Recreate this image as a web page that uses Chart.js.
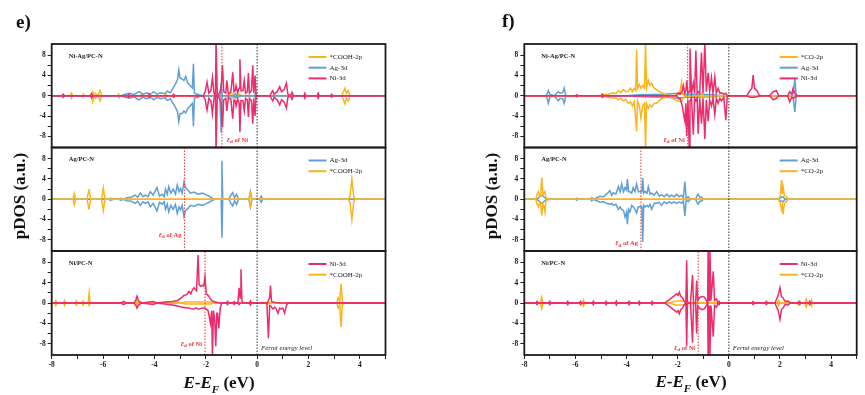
<!DOCTYPE html>
<html>
<head>
<meta charset="utf-8">
<script src="https://cdn.jsdelivr.net/npm/chart.js@4.4.0/dist/chart.umd.min.js"></script>
<style>
  body { margin: 0; background: #fff; width: 865px; height: 395px; position: relative; overflow: hidden; font-family: "Liberation Serif", serif; color: #111; }
  canvas { position: absolute; left: 0; top: 0; }
  .tag { position: absolute; font-weight: bold; font-size: 19px; line-height: 19px; }
  .ytitle { position: absolute; font-weight: bold; font-size: 17px; white-space: nowrap; transform: translate(-50%, -50%) rotate(-90deg); }
  .xtitle { position: absolute; font-weight: bold; font-size: 17px; white-space: nowrap; transform: translate(-50%, -50%); }
  .xtitle sub { font-size: 11px; }
</style>
</head>
<body>
<canvas id="e1" width="865" height="395"></canvas>
<canvas id="e2" width="865" height="395"></canvas>
<canvas id="e3" width="865" height="395"></canvas>
<canvas id="f1" width="865" height="395"></canvas>
<canvas id="f2" width="865" height="395"></canvas>
<canvas id="f3" width="865" height="395"></canvas>
<div class="tag" style="left:16px;top:12px">e)</div>
<div class="tag" style="left:502px;top:11px">f)</div>
<div class="ytitle" style="left:20px;top:196px">pDOS (a.u.)</div>
<div class="ytitle" style="left:492px;top:196px">pDOS (a.u.)</div>
<div class="xtitle" style="left:219px;top:384px"><i>E</i>-<i>E</i><sub><i>F</i></sub> (eV)</div>
<div class="xtitle" style="left:691px;top:383px"><i>E</i>-<i>E</i><sub><i>F</i></sub> (eV)</div>
<script>
// axis ranges and ticks
const xLimits = [-8, 5];
const yLimits = [-10.2, 10.2];
const xTickVals = [-8, -7, -6, -5, -4, -3, -2, -1, 0, 1, 2, 3, 4, 5];
const xTickLabels = [-8, -6, -4, -2, 0, 2, 4];
const yTickVals = [-8, -6, -4, -2, 0, 2, 4, 6, 8];
const yTickLabels = [-8, -4, 0, 4, 8];

// d-band centres (eV)
const epsE = [-1.37, -2.83, -2.03];
const epsF = [-1.61, -3.44, -1.2];

// each point: [energy, spin up, spin down]
const e1Cooh = [[-8,0,0],[-7.28,0,0],[-7.23,0.5,-0.5],[-7.18,0,0],[-6.8,0,0],[-6.77,0.3,-0.3],[-6.74,0,0],[-6.45,0,0],[-6.4,0.8,-1.2],[-6.36,0.3,-0.3],[-6.3,0.5,-0.5],[-6.2,0,0],[-6.12,1.0,-1.0],[-6.05,0,0],[-5.42,0,0],[-5.4,0.3,-0.3],[-5.38,0,0],[-4.55,0,0],[-4.5,0.3,-0.3],[-4.45,0,0],[-3.6,0,0],[-3.55,0.3,-0.3],[-3.5,0,0],[-2.35,0,0],[-2.3,0.3,-0.3],[-2.25,0,0],[-1.1,0,0],[-1.0,0.5,-0.5],[-0.9,0.2,-0.2],[-0.75,0.4,-0.4],[-0.6,0,0],[3.3,0,0],[3.36,0.8,-0.8],[3.42,1.5,-1.6],[3.48,0.5,-0.5],[3.55,1.0,-1.0],[3.62,0,0],[5,0,0]];
const e1Ag = [[-8,0,0],[-5.3,0,0],[-5.15,0.3,-0.3],[-4.95,0.5,-0.5],[-4.8,0.2,-0.2],[-4.6,0.8,-0.8],[-4.45,0.3,-0.3],[-4.3,0.6,-0.6],[-4.15,0.3,-0.3],[-4.03,0.8,-0.8],[-3.9,0.3,-0.3],[-3.76,0.6,-0.6],[-3.6,0.4,-0.4],[-3.5,0.9,-0.9],[-3.38,0.6,-0.6],[-3.3,1.3,-1.3],[-3.18,2.3,-2.3],[-3.1,3.2,-3.2],[-3.05,5.1,-5.1],[-3.0,3.5,-3.5],[-2.92,3.3,-3.5],[-2.85,3.0,-3.0],[-2.78,3.8,-3.4],[-2.7,2.5,-2.5],[-2.61,2.0,-2.0],[-2.52,1.5,-1.5],[-2.48,6.3,-6.0],[-2.44,0.5,-0.5],[-2.3,0.2,-0.2],[-2.1,0,0],[-1.45,0,0],[-1.4,2.5,-7.3],[-1.36,0,0],[-0.9,0,0],[-0.85,0.4,-0.4],[-0.8,0,0],[-0.1,0,0],[-0.06,0.5,-0.5],[-0.02,0,0],[5,0,0]];
const e1Ni = [[-8,0,0],[-7.6,0,0],[-7.55,0.3,-0.3],[-7.5,0,0],[-6.5,0,0],[-6.45,0.4,-0.4],[-6.4,0,0],[-5.05,0,0],[-5,0.3,-0.3],[-4.95,0,0],[-4.25,0,0],[-4.2,0.3,-0.3],[-4.15,0,0],[-3.3,0,0],[-3.25,0.3,-0.3],[-3.2,0,0],[-2.1,0,0],[-2.02,0.8,-0.8],[-1.95,2.7,-2.8],[-1.88,0.5,-0.5],[-1.8,1.0,-1.0],[-1.74,3.6,-3.5],[-1.68,0.5,-0.5],[-1.62,0,0],[-1.6,11,-11],[-1.57,11,-11],[-1.55,0,0],[-1.47,0.5,-0.5],[-1.4,1.5,-1.5],[-1.35,6.0,-6.2],[-1.3,0.8,-0.8],[-1.22,0.5,-0.5],[-1.18,3.0,-3.0],[-1.12,0.3,-0.3],[-1.02,0.8,-0.8],[-0.95,4.6,-4.5],[-0.9,0.8,-0.8],[-0.85,1.0,-1.0],[-0.82,2.0,-2.0],[-0.76,0.6,-0.6],[-0.7,1.5,-1.5],[-0.67,7.2,-7.2],[-0.63,1.0,-1.0],[-0.55,1.0,-1.0],[-0.5,3.0,-3.0],[-0.45,0.5,-0.5],[-0.38,0.8,-0.8],[-0.34,4.5,-4.2],[-0.3,0.5,-0.5],[-0.22,1.0,-1.0],[-0.17,6.0,-5.5],[-0.13,0.5,-0.5],[-0.08,4.0,-4.0],[-0.04,0,0],[0.5,0,0],[0.56,0.6,-0.6],[0.61,1.0,-1.0],[0.66,0.3,-0.3],[0.78,0.8,-0.8],[0.88,1.8,-1.8],[0.95,0.8,-0.8],[1.05,1.2,-1.2],[1.14,2.5,-2.4],[1.2,0.3,-0.3],[1.3,0,0],[1.36,0.7,-0.7],[1.42,0,0],[1.82,0,0],[1.86,0.5,-0.5],[1.9,0,0],[2.34,0,0],[2.38,0.5,-0.5],[2.42,0,0],[2.86,0,0],[2.9,0.3,-0.3],[2.94,0,0],[5,0,0]];

const e2Ag = [[-8,0,0],[-5.8,0,0],[-5.7,0.2,-0.2],[-5.6,0,0],[-5.4,0,0],[-5.3,0.2,-0.2],[-5.2,0,0],[-5.07,0.3,-0.3],[-4.9,0.4,-0.4],[-4.75,0.8,-0.8],[-4.65,0.4,-0.4],[-4.55,1.2,-1.2],[-4.45,0.5,-0.5],[-4.35,0.8,-0.8],[-4.25,0.5,-0.5],[-4.16,1.5,-1.5],[-4.05,0.8,-0.8],[-3.9,2.3,-2.3],[-3.8,0.6,-0.6],[-3.7,1.0,-1.0],[-3.62,0.5,-0.5],[-3.57,2.0,-2.0],[-3.5,1.0,-1.0],[-3.44,2.5,-2.5],[-3.36,1.2,-1.2],[-3.27,2.0,-2.0],[-3.18,1.0,-1.0],[-3.11,2.8,-2.8],[-3.04,1.5,-1.5],[-2.98,2.1,-2.1],[-2.92,1.2,-1.2],[-2.85,3.4,-3.4],[-2.78,2.2,-2.2],[-2.69,1.8,-1.8],[-2.6,1.2,-1.2],[-2.46,1.4,-1.4],[-2.3,1.0,-1.0],[-2.13,1.2,-1.2],[-2.0,0.9,-0.9],[-1.87,0.6,-0.6],[-1.75,0.2,-0.2],[-1.65,0,0],[-1.4,0,0],[-1.37,7.6,-7.6],[-1.34,0,0],[-1.1,0,0],[-1.02,0.8,-0.8],[-0.95,1.3,-1.3],[-0.88,0.3,-0.3],[-0.8,1.0,-1.0],[-0.72,0,0],[-0.32,0,0],[-0.26,1.5,-1.5],[-0.2,0,0],[0.1,0,0],[0.16,0.6,-0.6],[0.22,0,0],[5,0,0]];
const e2Cooh = [[-8,0,0],[-7.17,0,0],[-7.12,1.1,-1.1],[-7.07,0,0],[-6.62,0,0],[-6.58,1.2,-1.2],[-6.55,2.0,-2.0],[-6.52,1.2,-1.2],[-6.48,0,0],[-6.06,0,0],[-6.02,1.2,-1.2],[-5.99,2.2,-2.2],[-5.96,1.2,-1.2],[-5.92,0,0],[-0.32,0,0],[-0.28,1.0,-1.0],[-0.26,1.3,-1.3],[-0.22,0,0],[3.55,0,0],[3.62,0.6,-0.6],[3.69,4.0,-4.0],[3.76,0.6,-0.6],[3.82,0,0],[5,0,0]];

const e3Ni = [[-8,0,0],[-5.3,0,0],[-5.2,0.3,-0.3],[-5.1,0,0],[-4.8,0,0],[-4.72,0.6,-0.5],[-4.68,1.3,-1.0],[-4.62,0.4,-0.4],[-4.5,0,0],[-4.05,0.3,-0.3],[-3.9,0,0],[-3.6,0.2,-0.2],[-3.3,0.3,-0.4],[-3.1,0.5,-0.6],[-2.95,1.0,-0.8],[-2.85,1.5,-0.9],[-2.75,1.6,-1.0],[-2.65,2.3,-1.0],[-2.58,1.8,-1.1],[-2.52,2.6,-1.2],[-2.46,3.0,-1.2],[-2.4,2.6,-1.0],[-2.36,2.4,-1.0],[-2.3,9.4,-1.2],[-2.26,3.6,-1.2],[-2.2,3.3,-1.1],[-2.14,3.5,-1.0],[-2.08,3.3,-1.0],[-2.03,5.1,-1.0],[-1.98,1.8,-1.2],[-1.91,1.5,-1.5],[-1.87,1.2,-2.5],[-1.82,0.8,-4.0],[-1.77,0.5,-1.5],[-1.74,0.4,-10.5],[-1.7,0.3,-1.5],[-1.65,0.2,-3.5],[-1.61,0.2,-8.5],[-1.57,0.1,-2.0],[-1.54,0.1,-2.0],[-1.49,0,-5.0],[-1.44,0,-1.0],[-1.38,0,0],[-1.2,0,0],[-1.15,0.3,-0.3],[-1.1,0,0],[-0.93,0,0],[-0.89,0.3,-0.3],[-0.85,0,0],[-0.75,0,0],[-0.7,3.0,-0.3],[-0.66,1.0,0],[-0.63,6.6,0],[-0.59,0.5,0],[-0.55,0,0],[-0.3,0,0],[-0.26,0.4,-0.4],[-0.22,0,0],[0.38,0,0],[0.44,0.5,-6.9],[0.49,1.0,-0.5],[0.52,3.4,-0.5],[0.56,0.3,-0.8],[0.62,0.2,-1.2],[0.68,0.1,-0.8],[0.75,0.1,-1.2],[0.81,0,-2.0],[0.88,0,-1.0],[0.94,0,-1.2],[1.0,0,-1.0],[1.07,0,-2.0],[1.14,0,-0.5],[1.2,0,0],[5,0,0]];
const e3Cooh = [[-8,0,0],[-7.88,0,0],[-7.84,0.5,-0.5],[-7.8,0,0],[-7.54,0,0],[-7.5,0.5,-0.5],[-7.46,0,0],[-7.08,0,0],[-7.04,0.4,-0.4],[-7.0,0,0],[-6.82,0,0],[-6.78,0.4,-0.4],[-6.74,0,0],[-6.58,0,0],[-6.54,2.0,-0.5],[-6.5,0,0],[-4.74,0,0],[-4.7,0.5,-0.5],[-4.66,0,0],[-3.0,0,0],[-2.8,0.2,-0.2],[-1.8,0.2,-0.2],[-1.7,0,0],[0.38,0,0],[0.42,0.3,-0.3],[0.46,0,0],[3.1,0,0],[3.16,1.0,-1.0],[3.22,0.3,-0.3],[3.27,3.8,-4.7],[3.32,0.3,-0.3],[3.4,0,0],[5,0,0]];

const f1Co = [[-8,0,0],[-5.0,0,0],[-4.9,0.2,-0.2],[-4.7,0.3,-0.3],[-4.52,0.6,-0.5],[-4.42,0.4,-0.4],[-4.32,1.0,-0.8],[-4.22,0.6,-0.5],[-4.13,1.2,-1.0],[-4.03,0.8,-0.7],[-3.93,0.9,-1.5],[-3.85,1.5,-1.2],[-3.77,0.8,-2.0],[-3.7,1.4,-1.2],[-3.64,1.0,-4.8],[-3.61,9.0,-7.0],[-3.57,1.5,-1.0],[-3.5,2.2,-2.0],[-3.44,1.5,-4.4],[-3.37,2.0,-2.0],[-3.3,1.5,-1.5],[-3.26,10.5,-10.5],[-3.22,1.5,-1.5],[-3.15,3.0,-2.5],[-3.08,2.0,-1.8],[-3.02,2.5,-2.2],[-2.92,1.5,-1.5],[-2.83,1.2,-1.5],[-2.73,0.8,-1.0],[-2.63,0.6,-0.6],[-2.5,0.3,-0.4],[-2.4,0,0],[-2.2,0,-0.5],[-2.05,0.2,-1.0],[-1.92,0.5,-1.1],[-1.85,2.6,-1.2],[-1.8,0.3,-0.6],[-1.7,0,0],[-1.1,0,0],[-1.05,0.4,-0.4],[-1.0,0,0],[-0.25,0,0],[-0.2,0.3,-0.3],[-0.15,0,0],[5,0,0]];
const f1Ag = [[-8,0,0],[-7.15,0,0],[-7.1,0.4,-0.6],[-7.06,1.0,-1.5],[-7.0,0.3,-0.3],[-6.85,0,0],[-6.75,0.4,-0.5],[-6.67,0.8,-1.0],[-6.6,0.5,-0.5],[-6.5,0.6,-0.6],[-6.44,1.5,-1.5],[-6.38,0,0],[-4.0,0,0],[-3.5,0.2,-0.2],[-2.5,0.3,-0.3],[-2.0,0.5,-0.5],[-1.7,0.3,-0.3],[-1.2,0.3,-0.3],[-0.6,0.2,-0.2],[-0.3,0,0],[2.45,0,0],[2.52,0.5,-0.5],[2.58,3.3,-3.2],[2.63,0.3,-0.3],[2.7,0,0],[5,0,0]];
const f1Ni = [[-8,0,0],[-6.0,0,0],[-5.95,0.2,-0.2],[-5.9,0,0],[-5.0,0,0],[-4.95,0.3,-0.3],[-4.9,0,0],[-2.05,0,0],[-1.96,0.6,-0.6],[-1.91,0.3,-0.5],[-1.82,1.0,-2.0],[-1.78,2.0,-3.4],[-1.72,0.5,-5.0],[-1.68,1.0,-1.5],[-1.65,3.0,-8.0],[-1.6,0.5,-0.8],[-1.55,0.8,-10.5],[-1.52,9.3,-1.0],[-1.46,0.5,-0.5],[-1.39,2.5,-7.7],[-1.34,0.5,-0.5],[-1.29,8.9,-1.0],[-1.24,0.5,-0.5],[-1.2,0.8,-7.5],[-1.14,0.5,-0.5],[-1.07,8.5,-5.5],[-1.01,0.5,-0.5],[-0.94,10.5,-8.5],[-0.88,0.8,-0.8],[-0.81,4.5,-5.0],[-0.75,0.8,-0.8],[-0.68,3.6,-2.0],[-0.62,0.5,-0.5],[-0.55,3.7,-3.7],[-0.49,0.5,-0.5],[-0.42,1.5,-1.5],[-0.35,0.5,-0.5],[-0.29,0.6,-1.0],[-0.2,0.3,-0.3],[-0.12,0.5,-4.8],[-0.06,0,0],[0.7,0,0],[0.82,1.0,-0.3],[0.9,1.5,-0.3],[0.95,4.1,-0.3],[1.0,1.5,-0.3],[1.1,1.0,-0.2],[1.2,0,0],[1.6,0,0],[1.73,0.8,-0.8],[1.86,1.0,-0.5],[1.95,0,0],[2.3,0,0],[2.38,0.8,-1.2],[2.46,0.3,-0.3],[2.51,1.4,-0.5],[2.58,0.5,-0.3],[2.64,0,0],[5,0,0]];

const f2Ag = [[-8,0,0],[-7.5,0,0],[-7.4,0.5,-0.5],[-7.3,0.8,-0.8],[-7.2,0.3,-0.3],[-7.1,0,0],[-6.0,0,0],[-5.95,0.2,-0.2],[-5.9,0,0],[-5.4,0,0],[-5.36,0.3,-0.3],[-5.3,0,0],[-5.04,0.6,-0.6],[-4.9,0.5,-0.5],[-4.78,1.0,-0.8],[-4.65,1.7,-1.0],[-4.58,0.8,-0.8],[-4.52,1.3,-1.2],[-4.42,1.0,-1.0],[-4.32,2.5,-2.0],[-4.25,1.5,-1.5],[-4.19,3.0,-2.0],[-4.12,1.5,-2.2],[-4.06,2.3,-3.5],[-4.0,1.8,-2.5],[-3.97,4.0,-4.9],[-3.92,1.5,-2.0],[-3.87,1.5,-2.5],[-3.8,1.2,-1.2],[-3.74,2.3,-1.5],[-3.67,1.5,-2.0],[-3.61,3.0,-2.7],[-3.54,1.5,-1.5],[-3.48,1.5,-1.5],[-3.4,1.5,-1.5],[-3.37,4.2,-8.4],[-3.33,1.2,-1.2],[-3.28,1.5,-1.5],[-3.2,1.2,-1.2],[-3.15,2.5,-1.5],[-3.08,1.0,-1.0],[-3.02,1.2,-2.0],[-2.92,0.8,-0.8],[-2.82,1.5,-0.8],[-2.72,0.6,-0.6],[-2.63,0.9,-1.2],[-2.53,0.5,-0.5],[-2.43,1.0,-0.9],[-2.33,0.5,-0.5],[-2.24,0.8,-0.8],[-2.14,0.5,-0.5],[-2.04,1.0,-0.8],[-1.94,0.5,-0.5],[-1.85,0.8,-0.8],[-1.78,0.3,-0.3],[-1.72,3.5,-3.3],[-1.67,0.2,-0.2],[-1.59,0.5,-0.5],[-1.5,0,0],[-1.3,0,0],[-1.25,0.6,-0.6],[-1.2,1.0,-1.0],[-1.14,0.4,-0.4],[-1.07,0.4,-0.4],[-1.0,0,0],[1.95,0,0],[2.05,0.4,-0.4],[2.12,0.5,-0.5],[2.2,0,0],[5,0,0]];
const f2Co = [[-8,0,0],[-7.55,0,0],[-7.5,1.0,-1.0],[-7.45,1.5,-1.5],[-7.4,0.5,-0.5],[-7.36,0.6,-0.8],[-7.32,4.3,-3.2],[-7.27,1.0,-1.0],[-7.22,1.2,-1.5],[-7.19,1.5,-2.5],[-7.15,0.3,-0.3],[-7.05,0,0],[1.95,0,0],[2.02,1.0,-1.0],[2.06,3.8,-2.0],[2.09,1.0,-1.2],[2.12,2.5,-3.0],[2.17,0.8,-0.8],[2.25,0.5,-0.5],[2.32,0,0],[5,0,0]];

const f3Ni = [[-8,0,0],[-7.54,0,0],[-7.5,0.3,-0.3],[-7.46,0,0],[-7.04,0,0],[-7.0,0.3,-0.3],[-6.96,0,0],[-6.34,0,0],[-6.3,0.3,-0.3],[-6.26,0,0],[-5.84,0,0],[-5.8,0.3,-0.3],[-5.76,0,0],[-5.34,0,0],[-5.3,0.3,-0.3],[-5.26,0,0],[-4.84,0,0],[-4.8,0.3,-0.3],[-4.76,0,0],[-4.44,0,0],[-4.4,0.4,-0.4],[-4.36,0,0],[-3.94,0,0],[-3.9,0.3,-0.3],[-3.86,0,0],[-3.54,0,0],[-3.5,0.3,-0.3],[-3.46,0,0],[-3.04,0,0],[-3.0,0.3,-0.3],[-2.96,0,0],[-2.5,0,0],[-2.43,0.3,-0.3],[-2.34,0.6,-0.6],[-2.24,1.0,-1.0],[-2.14,1.4,-1.4],[-2.04,1.8,-1.8],[-1.98,1.5,-1.5],[-1.94,2.1,-2.1],[-1.88,1.3,-1.3],[-1.81,1.0,-1.0],[-1.74,0.3,-0.3],[-1.68,0,0],[-1.65,8.4,-8.4],[-1.62,0,0],[-1.5,0,0],[-1.42,5.5,-7.8],[-1.38,0,0],[-1.3,0,0],[-1.26,4.4,-6.0],[-1.22,0.5,-0.5],[-1.15,1.0,-1.0],[-1.05,1.3,-1.3],[-0.95,1.1,-1.1],[-0.88,0.5,-0.5],[-0.83,0,0],[-0.81,10.5,-10.5],[-0.77,0.5,-0.5],[-0.74,10.5,-10.5],[-0.7,0.5,-0.5],[-0.61,6.2,-6.6],[-0.56,0.5,-0.5],[-0.48,0.8,-0.8],[-0.42,0,0],[-0.38,0.3,-0.3],[-0.34,0,0],[0.9,0,0],[0.95,0.3,-0.3],[1.0,0,0],[1.42,0,0],[1.47,0.3,-0.3],[1.52,0,0],[1.8,0,0],[1.93,1.5,-1.5],[2.0,3.0,-3.2],[2.06,1.2,-1.2],[2.12,1.0,-1.0],[2.2,0.3,-0.3],[2.32,0.4,-0.4],[2.4,0,0],[2.73,0,0],[2.77,0.3,-0.3],[2.81,0,0],[3.12,0,0],[3.16,0.3,-0.3],[3.2,0,0],[5,0,0]];
const f3Co = [[-8,0,0],[-7.37,0,0],[-7.32,1.1,-1.1],[-7.27,0,0],[-5.74,0,0],[-5.69,0.6,-0.6],[-5.64,0,0],[-2.3,0,0],[-2.1,0.4,-0.4],[-1.7,0.4,-0.4],[-1.5,0,0],[1.9,0,0],[1.95,0.5,-0.5],[2.0,0,0],[2.2,0,0],[2.25,0.3,-0.3],[2.3,0,0],[2.65,0,0],[2.7,0.3,-0.3],[2.75,0,0],[2.98,0,0],[3.03,0.8,-0.8],[3.08,0,0],[3.18,0,0],[3.23,0.6,-0.6],[3.28,0,0],[5,0,0]];

const ORANGE = '#fbb41c', BLUE = '#5f9fd6', PINK = '#ec2c6c', RED = '#ee3535';
Chart.defaults.font.family = '"Liberation Serif", "DejaVu Serif", serif';
Chart.defaults.color = '#1a1a1a';

// legend entries listed in reference order; layer 0 is drawn on top
const subplots = [
  { id: 'e1', box: [51.7, 44, 385.5, 147.5], name: 'Ni-Ag/PC-N', eps: epsE[0], atom: 'Ni', epsRight: true, epsDy: 7.5, bottom: false,
    series: [{ label: '*COOH-2p', color: ORANGE, pts: e1Cooh, layer: 2 }, { label: 'Ag-3d', color: BLUE, pts: e1Ag, layer: 1 }, { label: 'Ni-3d', color: PINK, pts: e1Ni, layer: 0 }] },
  { id: 'e2', box: [51.7, 147.5, 385.5, 251], name: 'Ag/PC-N', eps: epsE[1], atom: 'Ag', epsRight: false, epsDy: 16, bottom: false,
    series: [{ label: 'Ag-3d', color: BLUE, pts: e2Ag, layer: 1 }, { label: '*COOH-2p', color: ORANGE, pts: e2Cooh, layer: 0 }] },
  { id: 'e3', box: [51.7, 251, 385.5, 355], name: 'Ni/PC-N', eps: epsE[2], atom: 'Ni', epsRight: false, epsDy: 11, bottom: true,
    series: [{ label: 'Ni-3d', color: PINK, pts: e3Ni, layer: 0 }, { label: '*COOH-2p', color: ORANGE, pts: e3Cooh, layer: 1 }] },
  { id: 'f1', box: [524.3, 44, 856.7, 147.5], name: 'Ni-Ag/PC-N', eps: epsF[0], atom: 'Ni', epsRight: false, epsDy: 7.5, bottom: false,
    series: [{ label: '*CO-2p', color: ORANGE, pts: f1Co, layer: 1 }, { label: 'Ag-3d', color: BLUE, pts: f1Ag, layer: 2 }, { label: 'Ni-3d', color: PINK, pts: f1Ni, layer: 0 }] },
  { id: 'f2', box: [524.3, 147.5, 856.7, 251], name: 'Ag/PC-N', eps: epsF[1], atom: 'Ag', epsRight: false, epsDy: 7.5, bottom: false,
    series: [{ label: 'Ag-3d', color: BLUE, pts: f2Ag, layer: 1 }, { label: '*CO-2p', color: ORANGE, pts: f2Co, layer: 0 }] },
  { id: 'f3', box: [524.3, 251, 856.7, 355], name: 'Ni/PC-N', eps: epsF[2], atom: 'Ni', epsRight: false, epsDy: 7, bottom: true,
    series: [{ label: 'Ni-3d', color: PINK, pts: f3Ni, layer: 0 }, { label: '*CO-2p', color: ORANGE, pts: f3Co, layer: 1 }] }
];

const decor = {
  id: 'decor',
  afterDatasetsDraw(chart, args, o) {
    const { ctx, chartArea: a, scales: { x } } = chart;
    ctx.save();
    ctx.strokeStyle = '#1c1c1c';
    ctx.lineWidth = 1.8;
    ctx.strokeRect(a.left, a.top, a.right - a.left, a.bottom - a.top);
    ctx.textBaseline = 'middle';
    ctx.fillStyle = '#222';
    ctx.font = 'bold 6.5px "Liberation Serif"';
    ctx.fillText(o.name, a.left + 17, a.top + 12);
    ctx.font = '7px "Liberation Serif"';
    o.series.forEach((s, i) => {
      const ly = a.top + 13 + i * 10.7;
      ctx.strokeStyle = s.color;
      ctx.lineWidth = 2;
      ctx.beginPath();
      ctx.moveTo(a.right - 77, ly);
      ctx.lineTo(a.right - 59, ly);
      ctx.stroke();
      ctx.fillText(s.label, a.right - 56, ly);
    });
    // epsilon_d label next to the red dotted line
    const ex = x.getPixelForValue(o.eps);
    const ey = a.bottom - o.epsDy;
    const f1 = 'italic bold 7.5px "Liberation Serif"', f2 = 'bold 5px "Liberation Serif"', f3 = 'bold 6.5px "Liberation Serif"';
    const tail = ' of ' + o.atom;
    ctx.font = f1; const w1 = ctx.measureText('\u03b5').width;
    ctx.font = f2; const w2 = ctx.measureText('d').width;
    ctx.font = f3; const w3 = ctx.measureText(tail).width;
    let sx = o.epsRight ? ex + 5 : ex - 3 - (w1 + w2 + w3);
    ctx.fillStyle = RED;
    ctx.font = f1; ctx.fillText('\u03b5', sx, ey);
    ctx.font = f2; ctx.fillText('d', sx + w1, ey + 2);
    ctx.font = f3; ctx.fillText(tail, sx + w1 + w2, ey);
    if (o.bottom) {
      ctx.fillStyle = '#222';
      ctx.font = 'italic 6.8px "Liberation Serif"';
      ctx.fillText('Fermi energy level', x.getPixelForValue(0) + 4, a.bottom - 7);
    }
    ctx.restore();
  }
};

function makeSub(p) {
  const datasets = [];
  p.series.forEach(s => {
    const base = { borderColor: s.color, borderWidth: 1.5, pointRadius: 0, tension: 0, fill: false, order: s.layer + 1 };
    datasets.push({ ...base, data: s.pts.map(v => ({ x: v[0], y: v[1] })) });
    datasets.push({ ...base, data: s.pts.map(v => ({ x: v[0], y: v[2] })) });
  });
  datasets.push({ data: [{ x: 0, y: yLimits[0] }, { x: 0, y: yLimits[1] }], borderColor: '#333', borderWidth: 1, borderDash: [1.5, 1.5], pointRadius: 0, order: 0 });
  datasets.push({ data: [{ x: p.eps, y: yLimits[0] }, { x: p.eps, y: yLimits[1] }], borderColor: RED, borderWidth: 1, borderDash: [1.5, 1.5], pointRadius: 0, order: 0 });

  new Chart(document.getElementById(p.id), {
    type: 'line',
    data: { datasets },
    plugins: [decor],
    options: {
      responsive: false,
      animation: false,
      events: [],
      layout: { padding: { left: p.box[0] - 30, top: p.box[1], right: 865 - p.box[2], bottom: p.bottom ? 395 - p.box[3] - 22 : 395 - p.box[3] } },
      plugins: { legend: { display: false }, tooltip: { enabled: false }, decor: { name: p.name, series: p.series, eps: p.eps, atom: p.atom, epsRight: p.epsRight, epsDy: p.epsDy, bottom: p.bottom } },
      scales: {
        x: {
          type: 'linear', min: xLimits[0], max: xLimits[1], display: p.bottom,
          afterFit: s => { s.height = p.bottom ? 22 : 0; },
          afterBuildTicks: s => { s.ticks = xTickVals.map(v => ({ value: v })); },
          grid: { drawOnChartArea: false, tickLength: 4, color: '#222' },
          border: { display: false },
          ticks: { autoSkip: false, maxRotation: 0, padding: 2, font: { size: 7.5, weight: 'bold' }, callback: v => xTickLabels.includes(v) ? String(v) : '' }
        },
        y: {
          type: 'linear', min: yLimits[0], max: yLimits[1],
          afterFit: s => { s.width = 30; },
          afterBuildTicks: s => { s.ticks = yTickVals.map(v => ({ value: v })); },
          grid: { drawOnChartArea: false, tickLength: 4, color: '#222' },
          border: { display: false },
          ticks: { autoSkip: false, padding: 2, font: { size: 7.5, weight: 'bold' }, callback: v => yTickLabels.includes(v) ? String(v) : '' }
        }
      }
    }
  });
}

subplots.forEach(makeSub);
</script>
</body>
</html>
